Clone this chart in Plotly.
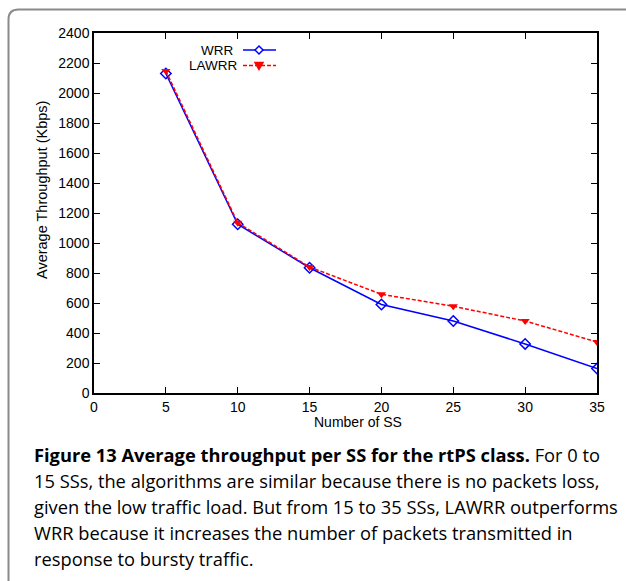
import plotly.graph_objects as go

# Throughput per subscriber station for the rtPS class
num_ss = [5, 10, 15, 20, 25, 30, 35]
wrr = [2130, 1125, 835, 590, 480, 327, 163]
lawrr = [2147, 1135, 840, 658, 578, 480, 340]

series_names = ["WRR", "LAWRR"]
series_colors = ["#0000ff", "#ff0000"]

x_ticks = [0, 5, 10, 15, 20, 25, 30, 35]
y_ticks = [0, 200, 400, 600, 800, 1000, 1200, 1400, 1600, 1800, 2000, 2200, 2400]

x_title = "Number of SS"
y_title = "Average Throughput (Kbps)"

caption_lines = [
    "<b>Figure 13 Average throughput per SS for the rtPS class.</b> For 0 to",
    "15 SSs, the algorithms are similar because there is no packets loss,",
    "given the low traffic load. But from 15 to 35 SSs, LAWRR outperforms",
    "WRR because it increases the number of packets transmitted in",
    "response to bursty traffic.",
]

W, H = 626, 581
L, R, T, B = 94, 29, 33, 188
pw, ph = W - L - R, H - T - B
AXIS_FONT = "Liberation Sans"


def px_x(px):
    return (px - L) / pw


def px_y(py):
    return (H - B - py) / ph


fig = go.Figure()
fig.add_trace(go.Scatter(
    x=num_ss, y=wrr, name=series_names[0], mode="lines+markers",
    line=dict(color=series_colors[0], width=1.5),
    marker=dict(symbol="diamond-open", size=8, color=series_colors[0], line=dict(width=1.5)),
))
fig.add_trace(go.Scatter(
    x=num_ss, y=lawrr, name=series_names[1], mode="lines+markers",
    line=dict(color=series_colors[1], width=1.5, dash="4px,2px"),
    marker=dict(symbol="triangle-down", size=8, color=series_colors[1]),
))

axis_common = dict(
    showgrid=False, zeroline=False, showline=True, linecolor="black", linewidth=1.5,
    mirror="ticks", ticks="inside", ticklen=6, tickwidth=1, tickcolor="black",
    tickfont=dict(family=AXIS_FONT, size=14, color="black"),
)
fig.update_xaxes(range=[0, 35], tickvals=x_ticks, **axis_common)
fig.update_yaxes(range=[0, 2400], tickvals=y_ticks, **axis_common)

# Axis titles placed as annotations (gnuplot-style offsets)
fig.add_annotation(text=x_title, xref="paper", yref="paper", x=px_x(358), y=px_y(422),
                   xanchor="center", yanchor="middle", showarrow=False,
                   font=dict(family=AXIS_FONT, size=14, color="black"))
fig.add_annotation(text=y_title, xref="paper", yref="paper", x=px_x(42), y=px_y(190),
                   xanchor="center", yanchor="middle", showarrow=False, textangle=-90,
                   font=dict(family=AXIS_FONT, size=14.5, color="black"))

# Key: label on the left, line sample with marker on the right
key_rows = [(234, 50), (239, 65.5)]
sample_x0, sample_x1, sample_xm = 243, 276, 259
for i, (name, color) in enumerate(zip(series_names, series_colors)):
    text_right, ky = key_rows[i]
    fig.add_annotation(text=name, xref="paper", yref="paper", x=px_x(text_right), y=px_y(ky),
                       xanchor="right", yanchor="middle", showarrow=False, borderpad=0,
                       font=dict(family=AXIS_FONT, size=13.5, color="black"))
    fig.add_shape(type="line", xref="paper", yref="paper",
                  x0=px_x(sample_x0), x1=px_x(sample_x1), y0=px_y(ky), y1=px_y(ky),
                  line=dict(color=color, width=1.5, dash="solid" if i == 0 else "4px,2px"))
    if i == 0:
        marker_path, fill = "M 0,4 L 4,0 L 0,-4 L -4,0 Z", "white"
    else:
        marker_path, fill = "M -4,3 L 4,3 L 0,-4 Z", color
    fig.add_shape(type="path", xref="paper", yref="paper",
                  xsizemode="pixel", ysizemode="pixel",
                  xanchor=px_x(sample_xm), yanchor=px_y(ky), path=marker_path,
                  fillcolor=fill, line=dict(color=color, width=1.5))

# Rounded panel border around figure and caption
x0, x1 = px_x(8.5), px_x(660)
y0, y1 = px_y(620), px_y(9.5)
xr, yr = px_x(18.5), px_y(19.5)
fig.add_shape(
    type="path", xref="paper", yref="paper",
    path=f"M {x0},{y0} L {x0},{yr} Q {x0},{y1} {xr},{y1} L {x1},{y1}",
    line=dict(color="#8a8a8a", width=2),
)

line_y = [454, 480, 506, 532, 558]
for text, py in zip(caption_lines, line_y):
    fig.add_annotation(
        text=text, xref="paper", yref="paper", x=px_x(33), y=px_y(py),
        xanchor="left", yanchor="middle", showarrow=False, align="left", borderpad=0,
        font=dict(family="Open Sans", size=18.3, color="black"),
    )

fig.update_layout(
    width=W, height=H, margin=dict(l=L, r=R, t=T, b=B),
    paper_bgcolor="white", plot_bgcolor="white",
    showlegend=False,
)

fig.write_html("out.html")
